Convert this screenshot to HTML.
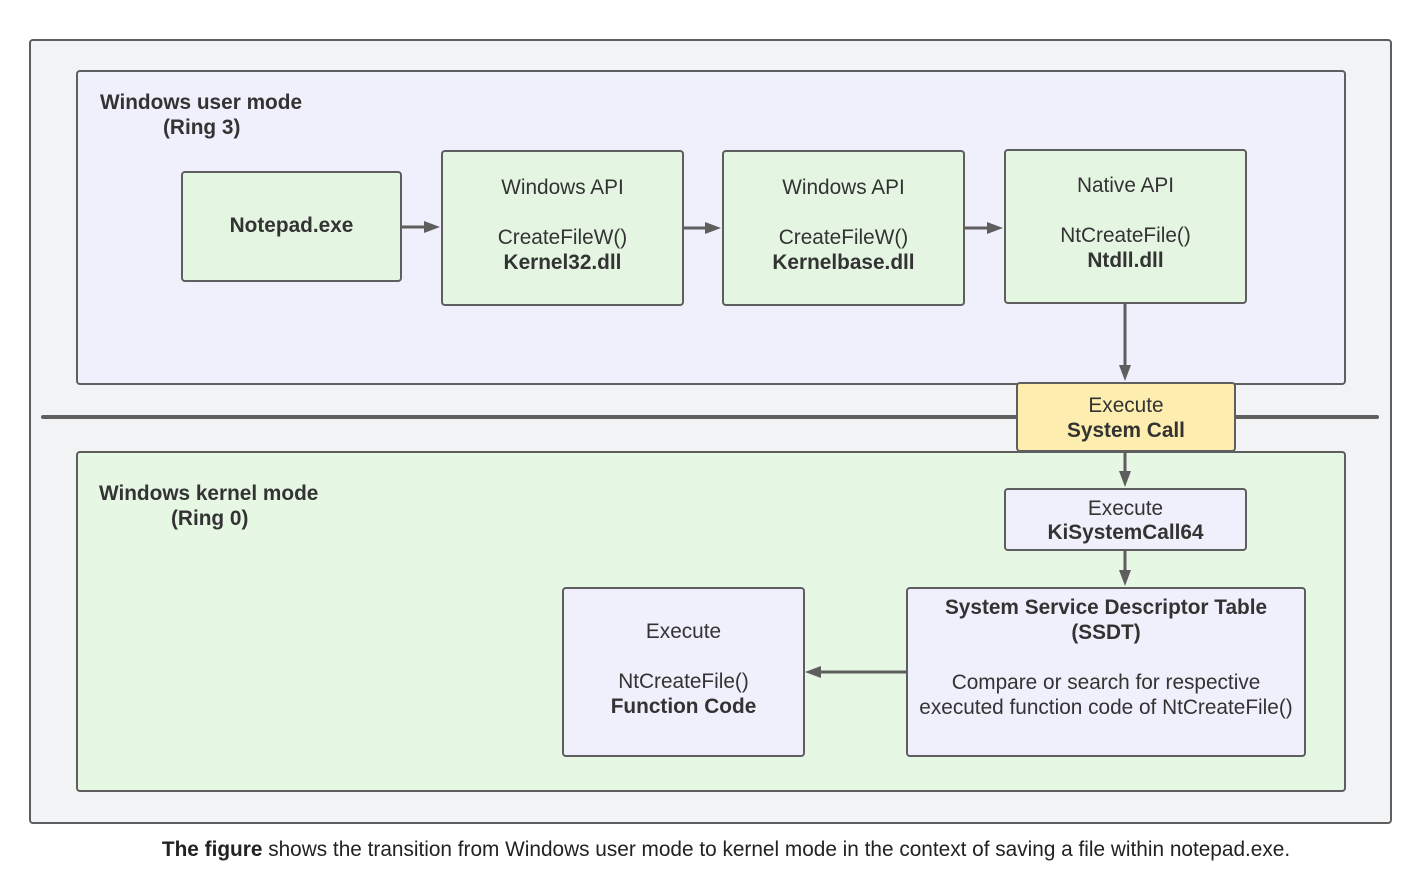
<!DOCTYPE html>
<html><head><meta charset="utf-8"><style>
body{margin:0;width:1421px;height:872px;background:#fff;position:relative;overflow:hidden;font-family:"Liberation Sans",Arial,sans-serif;color:#333}
.b{position:absolute;box-sizing:border-box;border:2px solid #5e5e5e;border-radius:4px}
.g{background:#e4f6e2}.p{background:#f0f0fd}
.t{position:absolute;height:26px;line-height:28px;font-size:20.8px;text-align:center;white-space:nowrap}
.bo{font-weight:bold}
</style></head><body>
<div class="b" style="left:29px;top:39px;width:1363px;height:785px;background:#f2f3f5"></div>
<div class="b p" style="left:76px;top:70px;width:1270px;height:315px"></div>
<div class="b g" style="left:76px;top:451px;width:1270px;height:341px;background:#e6f7e4"></div>
<div style="position:absolute;left:41px;top:415px;width:1338px;height:4px;background:#5e5e5e;border-radius:2px"></div>

<div class="b g" style="left:181px;top:171px;width:221px;height:111px"></div>
<div class="b g" style="left:441px;top:150px;width:243px;height:156px"></div>
<div class="b g" style="left:722px;top:150px;width:243px;height:156px"></div>
<div class="b g" style="left:1004px;top:149px;width:243px;height:155px"></div>
<div class="b" style="left:1016px;top:382px;width:220px;height:70px;background:#fdedae"></div>
<div class="b p" style="left:1004px;top:488px;width:243px;height:63px"></div>
<div class="b p" style="left:906px;top:587px;width:400px;height:170px"></div>
<div class="b p" style="left:562px;top:587px;width:243px;height:170px"></div>

<svg style="position:absolute;left:0;top:0" width="1421" height="872">
<g stroke="#5e5e5e" stroke-width="3" fill="#5e5e5e">
<line x1="402" y1="227" x2="426" y2="227"/><polygon stroke="none" points="440,227 424,221 424,233"/>
<line x1="684" y1="228" x2="707" y2="228"/><polygon stroke="none" points="721,228 705,222 705,234"/>
<line x1="965" y1="228" x2="989" y2="228"/><polygon stroke="none" points="1003,228 987,222 987,234"/>
<line x1="1125" y1="304" x2="1125" y2="366"/><polygon stroke="none" points="1125,381 1119,365 1131,365"/>
<line x1="1125" y1="452" x2="1125" y2="472"/><polygon stroke="none" points="1125,487 1119,471 1131,471"/>
<line x1="1125" y1="551" x2="1125" y2="571"/><polygon stroke="none" points="1125,586 1119,570 1131,570"/>
<line x1="906" y1="672" x2="820" y2="672"/><polygon stroke="none" points="805,672 821,666 821,678"/>
</g></svg>

<div class="t bo" style="left:100px;top:89px">Windows user mode</div>
<div class="t bo" style="left:163px;top:114px">(Ring 3)</div>
<div class="t bo" style="left:99px;top:480px">Windows kernel mode</div>
<div class="t bo" style="left:171px;top:505px">(Ring 0)</div>

<div class="t bo" style="left:181px;width:221px;top:212px">Notepad.exe</div>
<div class="t" style="left:441px;width:243px;top:174px">Windows API</div>
<div class="t" style="left:441px;width:243px;top:224px">CreateFileW()</div>
<div class="t bo" style="left:441px;width:243px;top:249px">Kernel32.dll</div>
<div class="t" style="left:722px;width:243px;top:174px">Windows API</div>
<div class="t" style="left:722px;width:243px;top:224px">CreateFileW()</div>
<div class="t bo" style="left:722px;width:243px;top:249px">Kernelbase.dll</div>
<div class="t" style="left:1004px;width:243px;top:172px">Native API</div>
<div class="t" style="left:1004px;width:243px;top:222px">NtCreateFile()</div>
<div class="t bo" style="left:1004px;width:243px;top:247px">Ntdll.dll</div>
<div class="t" style="left:1016px;width:220px;top:392px">Execute</div>
<div class="t bo" style="left:1016px;width:220px;top:417px">System Call</div>
<div class="t" style="left:1004px;width:243px;top:495px">Execute</div>
<div class="t bo" style="left:1004px;width:243px;top:519px">KiSystemCall64</div>
<div class="t bo" style="left:906px;width:400px;top:594px">System Service Descriptor Table</div>
<div class="t bo" style="left:906px;width:400px;top:619px">(SSDT)</div>
<div class="t" style="left:906px;width:400px;top:669px">Compare or search for respective</div>
<div class="t" style="left:906px;width:400px;top:694px">executed function code of NtCreateFile()</div>
<div class="t" style="left:562px;width:243px;top:618px">Execute</div>
<div class="t" style="left:562px;width:243px;top:668px">NtCreateFile()</div>
<div class="t bo" style="left:562px;width:243px;top:693px">Function Code</div>

<div class="t" style="left:0;width:1452px;top:836px;color:#222"><b>The figure</b> shows the transition from Windows user mode to kernel mode in the context of saving a file within notepad.exe.</div>
</body></html>
